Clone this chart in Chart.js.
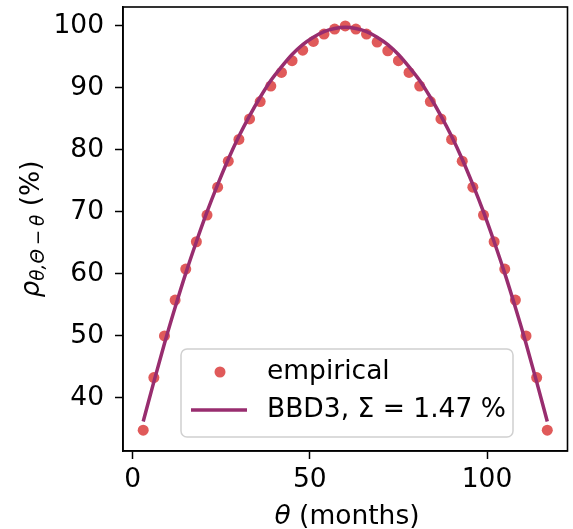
<!DOCTYPE html>
<html>
<head>
<meta charset="utf-8">
<script src="https://cdn.jsdelivr.net/npm/chart.js@4.4.1/dist/chart.umd.min.js"></script>
<style>
  html, body { margin: 0; padding: 0; background: #fff; }
  #wrap { width: 573px; height: 529px; position: relative; }
</style>
</head>
<body>
<div id="wrap"><canvas id="c" width="573" height="529"></canvas></div>
<script>
const thetas = [3, 6, 9, 12, 15, 18, 21, 24, 27, 30, 33, 36, 39, 42, 45, 48, 51, 54, 57, 60,
                63, 66, 69, 72, 75, 78, 81, 84, 87, 90, 93, 96, 99, 102, 105, 108, 111, 114, 117];
const empirical = [34.8, 43.3, 50.0, 55.8, 60.8, 65.2, 69.5, 74.0, 78.2, 81.7, 85.0, 87.8, 90.3, 92.5, 94.4, 96.1, 97.5, 98.7, 99.5, 100.0,
                   99.5, 98.7, 97.4, 96.0, 94.4, 92.5, 90.3, 87.8, 85.0, 81.7, 78.2, 74.0, 69.5, 65.2, 60.8, 55.8, 50.0, 43.3, 34.8];
const bbd3 = [36.2, 42.6, 48.8, 54.6, 60.1, 65.2, 70.0, 74.4, 78.5, 82.2, 85.5, 88.5, 91.2, 93.4, 95.4, 97.0, 98.2, 99.1, 99.6, 99.8,
              99.6, 99.1, 98.2, 97.0, 95.4, 93.4, 91.2, 88.5, 85.5, 82.2, 78.5, 74.4, 70.0, 65.2, 60.1, 54.6, 48.8, 42.6, 36.2];
const xTicks = [0, 50, 100];
const yTicks = [40, 50, 60, 70, 80, 90, 100];
const legendLabels = ['empirical', 'BBD3, \u03A3 = 1.47 %'];

const FONT = "'DejaVu Sans', sans-serif";
const FS = 26.5;
const PT_COLOR = '#e05a5a';
const LN_COLOR = '#982d6f';

const framePlugin = {
  id: 'frame',
  afterDatasetsDraw(chart) {
    const a = chart.chartArea, ctx = chart.ctx;
    ctx.save();
    ctx.strokeStyle = '#000';
    ctx.lineWidth = 1.6;
    ctx.strokeRect(a.left, a.top, a.right - a.left, a.bottom - a.top);
    ctx.restore();
  }
};

const legendPlugin = {
  id: 'customLegend',
  afterDraw(chart) {
    const ctx = chart.ctx;
    ctx.save();
    const x = 181, y = 349, w = 332, h = 88, r = 6;
    ctx.beginPath();
    ctx.roundRect(x, y, w, h, r);
    ctx.fillStyle = 'rgba(255,255,255,0.85)';
    ctx.fill();
    ctx.strokeStyle = '#d0d0d0';
    ctx.lineWidth = 1.5;
    ctx.stroke();
    ctx.beginPath();
    ctx.arc(220, 372, 5.5, 0, Math.PI * 2);
    ctx.fillStyle = PT_COLOR;
    ctx.fill();
    ctx.beginPath();
    ctx.moveTo(191, 410);
    ctx.lineTo(247, 410);
    ctx.strokeStyle = LN_COLOR;
    ctx.lineWidth = 3.5;
    ctx.stroke();
    ctx.fillStyle = '#000';
    ctx.font = FS + 'px ' + FONT;
    ctx.textBaseline = 'middle';
    ctx.textAlign = 'left';
    ctx.fillText(legendLabels[0], 267, 372);
    ctx.fillText(legendLabels[1], 267, 410);
    ctx.restore();
  }
};

const titlesPlugin = {
  id: 'titles',
  afterDraw(chart) {
    const ctx = chart.ctx;
    ctx.save();
    ctx.fillStyle = '#000';
    ctx.textAlign = 'left';
    ctx.textBaseline = 'alphabetic';
    const big = FS + 'px ' + FONT, bigI = 'italic ' + FS + 'px ' + FONT;
    ctx.font = bigI; const w1 = ctx.measureText('\u03B8').width;
    ctx.font = big; const w2 = ctx.measureText(' (months)').width;
    let sx = 347 - (w1 + w2) / 2;
    const by = 524;
    ctx.font = bigI; ctx.fillText('\u03B8', sx, by);
    ctx.font = big; ctx.fillText(' (months)', sx + w1, by);
    // y title (rotated)
    ctx.translate(30, 229);
    ctx.rotate(-Math.PI / 2);
    const smallI = 'italic 18.5px ' + FONT;
    const sub = '\u03B8,\u0398\u2009\u2212\u2009\u03B8';
    ctx.font = bigI; const a1 = ctx.measureText('\u03C1').width;
    ctx.font = smallI; const a2 = ctx.measureText(sub).width;
    ctx.font = big; const a3 = ctx.measureText(' (%)').width;
    let px = -(a1 + a2 + a3) / 2;
    const base = 9;
    ctx.font = bigI; ctx.fillText('\u03C1', px, base); px += a1;
    ctx.font = smallI; ctx.fillText(sub, px, base + 5); px += a2;
    ctx.font = big; ctx.fillText(' (%)', px, base);
    ctx.restore();
  }
};

new Chart(document.getElementById('c'), {
  type: 'scatter',
  data: {
    datasets: [
      {
        label: legendLabels[1],
        data: thetas.map((t, i) => ({ x: t, y: bbd3[i] })),
        showLine: true,
        borderColor: LN_COLOR,
        backgroundColor: LN_COLOR,
        borderWidth: 3.5,
        pointRadius: 0,
        cubicInterpolationMode: 'monotone',
        order: 0
      },
      {
        label: legendLabels[0],
        data: thetas.map((t, i) => ({ x: t, y: empirical[i] })),
        showLine: false,
        backgroundColor: PT_COLOR,
        borderColor: PT_COLOR,
        borderWidth: 0,
        pointRadius: 5.5,
        order: 1
      }
    ]
  },
  options: {
    responsive: false,
    animation: false,
    devicePixelRatio: 1,
    layout: { padding: { top: 7, right: 2, left: 0, bottom: 0 } },
    plugins: { legend: { display: false }, tooltip: { enabled: false } },
    scales: {
      x: {
        type: 'linear',
        min: -2.7,
        max: 122.7,
        afterBuildTicks(scale) { scale.ticks = xTicks.map(v => ({ value: v })); },
        afterFit(scale) { scale.height = 78; scale.paddingLeft = 0; scale.paddingRight = 0; },
        grid: { display: true, drawOnChartArea: false, drawTicks: true, tickLength: 8, tickWidth: 1.5, tickColor: '#000' },
        border: { display: true, color: '#000', width: 1.6 },
        ticks: { color: '#000', font: { family: FONT, size: FS }, padding: 5, maxRotation: 0 }
      },
      y: {
        type: 'linear',
        min: 31.45,
        max: 103.06,
        afterBuildTicks(scale) { scale.ticks = yTicks.map(v => ({ value: v })); },
        afterFit(scale) { scale.width = 123; scale.paddingTop = 0; scale.paddingBottom = 0; },
        grid: { display: true, drawOnChartArea: false, drawTicks: true, tickLength: 8, tickWidth: 1.5, tickColor: '#000' },
        border: { display: true, color: '#000', width: 1.6 },
        ticks: { color: '#000', font: { family: FONT, size: FS }, padding: 11 }
      }
    }
  },
  plugins: [framePlugin, legendPlugin, titlesPlugin]
});
</script>
</body>
</html>
